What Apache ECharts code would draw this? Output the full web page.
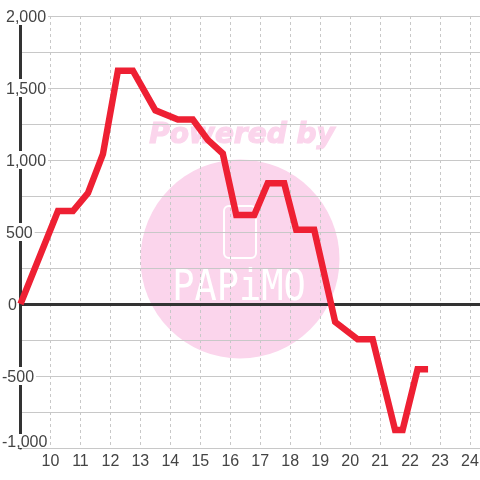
<!DOCTYPE html>
<html><head><meta charset="utf-8">
<style>html,body{margin:0;padding:0;background:#fff}#c{width:480px;height:480px}</style>
<script src="https://cdn.jsdelivr.net/npm/echarts@6/dist/echarts.min.js"></script>
</head><body><div id="c"></div>
<script>
const hours = [9, 10.25, 10.75, 11.25, 11.75, 12.25, 12.75, 13.5, 14.25, 14.75, 15.25, 15.75, 16.2, 16.8, 17.25, 17.8, 18.2, 18.8, 19.5, 20.25, 20.75, 21.5, 21.75, 22.25, 22.6];
const values = [0, 645, 645, 770, 1040, 1620, 1620, 1345, 1281, 1281, 1140, 1045, 618, 618, 838, 838, 515, 515, -125, -245, -245, -875, -875, -453, -453];
const yTicks = {min: -1000, max: 2000, step: 500};
const xTicks = {min: 9, max: 24.333, step: 1};
const wm1 = 'Powered by', wm2 = 'PAPiMO';
const pink = '#fbd5ec';
const lab = {color: '#444', fontSize: 16, lineHeight: 14, fontFamily: '"Liberation Sans"'};

const chart = echarts.init(document.getElementById('c'), null, {renderer: 'canvas'});
chart.setOption({
  animation: false,
  backgroundColor: '#fff',
  textStyle: {fontFamily: '"Liberation Sans"'},
  grid: {left: 20.5, top: 16, width: 459.5, height: 432, containLabel: false, outerBoundsMode: 'none'},
  xAxis: [{
    type: 'value', position: 'bottom', min: xTicks.min, max: xTicks.max, interval: xTicks.step, z: 1,
    axisLine: {show: false, onZero: false}, axisTick: {show: false},
    axisLabel: {color: '#444', fontSize: 16, margin: 6, showMinLabel: false, showMaxLabel: false,
      fontFamily: '"Liberation Sans"', formatter: v => String(v)},
    splitLine: {show: true, lineStyle: {color: '#c8c8c8', type: [3, 3], width: 1}}
  }, {
    type: 'value', position: 'bottom', min: xTicks.min, max: xTicks.max, interval: xTicks.step, z: 4,
    axisLine: {show: true, onZero: true, lineStyle: {color: '#333', width: 3}},
    axisTick: {show: false}, axisLabel: {show: false}, splitLine: {show: false}
  }],
  yAxis: {
    type: 'value', min: yTicks.min, max: yTicks.max, interval: yTicks.step, z: 3,
    axisLine: {show: true, onZero: false, lineStyle: {color: '#333', width: 3}},
    axisTick: {show: false},
    axisLabel: {margin: 18.5, align: 'left', verticalAlignMinLabel: 'bottom',
      backgroundColor: '#fff', padding: [4, 2, 0, 0],
      formatter: v => {
        const s = v.toLocaleString('en-US');
        return v === yTicks.min ? '{m|' + s + '}' : v < 0 ? '{n|' + s + '}' : v === 0 ? '{z|' + s + '}' : '{p|' + s + '}';
      },
      rich: {
        n: lab,
        m: Object.assign({}, lab, {lineHeight: 10}),
        p: Object.assign({}, lab, {padding: [0, 0, 0, 4]}),
        z: Object.assign({}, lab, {padding: [0, 0, 0, 6]})
      }},
    splitLine: {show: true, lineStyle: {color: '#c8c8c8', width: 1}},
    minorTick: {show: false, splitNumber: 2},
    minorSplitLine: {show: true, lineStyle: {color: '#c8c8c8', width: 1}}
  },
  graphic: {elements: [
    {type: 'circle', z: -10, shape: {cx: 240, cy: 259, r: 99.5}, style: {fill: pink}},
    {type: 'text', z: -9, x: 242, y: 136, style: {text: wm1, fill: pink, stroke: pink, lineWidth: 1.2, align: 'center', verticalAlign: 'middle',
      font: 'italic bold 28px "DejaVu Sans"'}},
    {type: 'rect', z: -9, shape: {x: 224, y: 206, width: 32, height: 52, r: 5}, style: {fill: 'none', stroke: '#fff', lineWidth: 2}},
    {type: 'text', z: -9, x: 239, y: 289, scaleY: 1.15, style: {text: wm2, fill: '#fff', align: 'center', verticalAlign: 'middle',
      font: '37px "DejaVu Sans Mono"'}}
  ]},
  series: [{
    type: 'line', xAxisIndex: 0, z: 5, showSymbol: false, symbol: 'none', smooth: false,
    data: hours.map((h, i) => [h, values[i]]),
    lineStyle: {color: '#ee2033', width: 6.5, join: 'miter', cap: 'butt'}
  }]
});
</script></body></html>
